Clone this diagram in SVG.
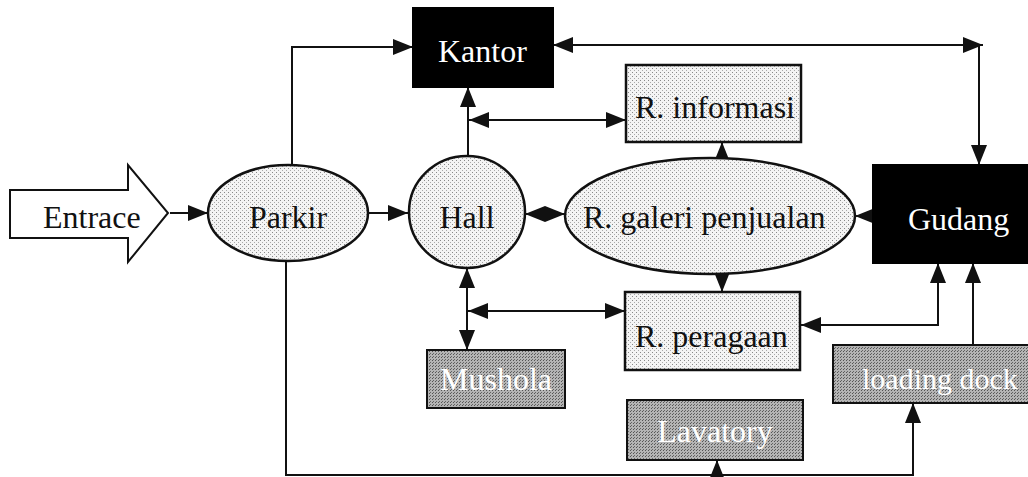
<svg xmlns="http://www.w3.org/2000/svg" width="1028" height="477" viewBox="0 0 1028 477">
<style>
  .t{font-family:"Liberation Serif","Times New Roman",serif;font-size:32px;fill:#111}
  .w{fill:#fff}
  .c{fill:none;stroke:#111;stroke-width:2}
  .lt{fill:url(#dotsLight);stroke:#111;stroke-width:2.5}
  .dk{fill:url(#dotsDark);stroke:#111;stroke-width:2}
  .bk{fill:#000;stroke:#000;stroke-width:2}
</style>
<defs>
  <pattern id="dotsLight" width="4" height="4" patternUnits="userSpaceOnUse">
    <rect width="4" height="4" fill="#f4f4f4"/>
    <rect x="0" y="0" width="1" height="1" fill="#888"/>
    <rect x="2" y="2" width="1" height="1" fill="#aaa"/>
  </pattern>
  <pattern id="dotsDark" width="3" height="3" patternUnits="userSpaceOnUse">
    <rect width="3" height="3" fill="#b4b4b4"/>
    <rect x="0" y="0" width="1" height="1" fill="#555"/>
    <rect x="1" y="2" width="1" height="1" fill="#666"/>
  </pattern>
  <marker id="ah" markerUnits="userSpaceOnUse" markerWidth="20" markerHeight="16" refX="20" refY="8" orient="auto-start-reverse">
    <path d="M0,0 L20,8 L0,16 z" fill="#111"/>
  </marker>
</defs>

<g id="connectors">
  <line class="c" x1="170" y1="213" x2="208" y2="213" marker-end="url(#ah)"/>
  <line class="c" x1="368" y1="213" x2="408" y2="213" marker-end="url(#ah)"/>
  <polyline class="c" points="292,165 292,47 413,47" marker-end="url(#ah)"/>
  <line class="c" x1="468" y1="157" x2="468" y2="87" marker-end="url(#ah)"/>
  <line class="c" x1="469" y1="120" x2="626" y2="120" marker-start="url(#ah)" marker-end="url(#ah)"/>
  <line class="c" x1="553" y1="45" x2="983" y2="45" marker-start="url(#ah)" marker-end="url(#ah)"/>
  <line class="c" x1="979" y1="45" x2="979" y2="165" marker-end="url(#ah)"/>
  <line class="c" x1="525" y1="214" x2="565" y2="214" marker-start="url(#ah)" marker-end="url(#ah)"/>
  <line class="c" x1="722" y1="162" x2="722" y2="142" marker-end="url(#ah)"/>
  <line class="c" x1="873" y1="216" x2="855" y2="216" marker-end="url(#ah)"/>
  <line class="c" x1="722" y1="272" x2="722" y2="292" marker-end="url(#ah)"/>
  <line class="c" x1="467" y1="268" x2="467" y2="350" marker-start="url(#ah)" marker-end="url(#ah)"/>
  <line class="c" x1="468" y1="311" x2="625" y2="311" marker-start="url(#ah)" marker-end="url(#ah)"/>
  <polyline class="c" points="938,263 938,325 801,325" marker-start="url(#ah)" marker-end="url(#ah)"/>
  <line class="c" x1="973" y1="345" x2="973" y2="263" marker-end="url(#ah)"/>
  <polyline class="c" points="286,262 286,475 913,475 913,403" marker-end="url(#ah)"/>
  <line class="c" x1="717" y1="475" x2="717" y2="460" marker-end="url(#ah)"/>
</g>

<g id="entrance">
  <polygon points="10,190 128,190 128,165 168,213 128,262 128,238 10,238" fill="#fff" stroke="#111" stroke-width="2"/>
  <text class="t" x="43" y="228">Entrace</text>
</g>
<g id="parkir">
  <ellipse class="lt" cx="288" cy="213" rx="80" ry="48"/>
  <text class="t" x="288" y="228" text-anchor="middle">Parkir</text>
</g>
<g id="kantor">
  <rect class="bk" x="413" y="8" width="140" height="79"/>
  <text class="t w" x="438" y="62">Kantor</text>
</g>
<g id="hall">
  <ellipse class="lt" cx="467" cy="212" rx="58" ry="56"/>
  <text class="t" x="467" y="228" text-anchor="middle">Hall</text>
</g>
<g id="r-informasi">
  <rect class="lt" x="626" y="65" width="175" height="77"/>
  <text class="t" x="635" y="118">R. informasi</text>
</g>
<g id="r-galeri">
  <ellipse class="lt" cx="710" cy="216" rx="145" ry="58"/>
  <text class="t" x="583" y="228">R. galeri penjualan</text>
</g>
<g id="gudang">
  <rect class="bk" x="873" y="165" width="160" height="98"/>
  <text class="t w" x="908" y="230">Gudang</text>
</g>
<g id="r-peragaan">
  <rect class="lt" x="625" y="292" width="175" height="78"/>
  <text class="t" x="635" y="347">R. peragaan</text>
</g>
<g id="mushola">
  <rect class="dk" x="427" y="350" width="138" height="58"/>
  <text class="t w" x="440" y="390">Mushola</text>
</g>
<g id="lavatory">
  <rect class="dk" x="627" y="400" width="176" height="60"/>
  <text class="t w" x="715" y="442" text-anchor="middle">Lavatory</text>
</g>
<g id="loading-dock">
  <rect class="dk" x="833" y="345" width="200" height="58"/>
  <text class="t w" x="862" y="389" style="font-size:30px">loading dock</text>
</g>
</svg>
